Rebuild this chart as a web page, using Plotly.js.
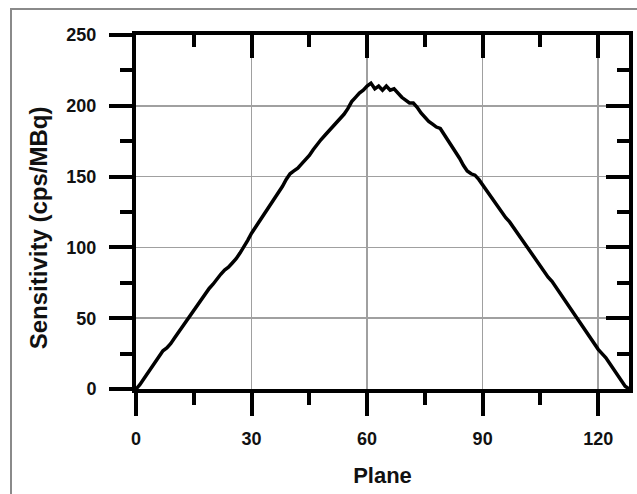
<!DOCTYPE html>
<html>
<head>
<meta charset="utf-8">
<script src="https://cdn.plot.ly/plotly-3.0.1.min.js"></script>
<style>
  html, body { margin: 0; padding: 0; background: #fff; }
  #wrap { position: relative; width: 637px; height: 494px; overflow: hidden; }
  #frame { position: absolute; left: 10px; top: 8px; width: 700px; height: 600px;
           border-left: 2px solid #8a8a8a; border-top: 2px solid #8a8a8a; pointer-events: none; }
  #chart { position: absolute; left: 0; top: 0; width: 637px; height: 494px; }
</style>
</head>
<body>
<div id="wrap">
  <div id="chart"></div>
  <div id="frame"></div>
</div>
<script>
// Plane index (x) and measured sensitivity (cps/MBq)
const planes = [
  0,1,2,3,4,5,6,7,8,9,10,11,12,13,14,15,16,17,18,19,20,21,22,23,24,25,26,27,28,29,
  30,31,32,33,34,35,36,37,38,39,40,41,42,43,44,45,46,47,48,49,50,51,52,53,54,55,56,57,58,59,
  60,61,62,63,64,65,66,67,68,69,70,71,72,73,74,75,76,77,78,79,80,81,82,83,84,85,86,87,88,89,
  90,91,92,93,94,95,96,97,98,99,100,101,102,103,104,105,106,107,108,109,110,111,112,113,114,
  115,116,117,118,119,120,121,122,123,124,125,126,127,128
];
const sensitivity = [
  0,3,7,11,15,19,23,27,29,32,36,40,44,48,52,56,59,63,67,71,74,78,81,84,86,89,92,96,100,105,
  110,114,118,122,126,130,134,138,143,148,152,154,156,159,162,165,169,173,176,179,182,185,188,191,194,198,203,206,209,211,
  214,216,212,214,211,214,211,212,209,206,204,202,202,199,195,192,189,187,185,184,180,176,171,167,163,158,154,152,151,148,
  144,140,136,132,128,125,121,118,114,110,106,102,98,94,91,87,83,79,76,72,68,64,60,56,52,
  48,44,40,35,31,28,25,22,18,14,10,6,2,0
];
const xTickVals = [0, 30, 60, 90, 120];
const xTickText = ["0", "30", "60", "90", "120"];
const yTickVals = [0, 50, 100, 150, 200, 250];
const yTickText = ["0", "50", "100", "150", "200", "250"];
const xTitle = "Plane";
const yTitle = "Sensitivity (cps/MBq)";

const FONT = "Liberation Sans, Arial, sans-serif";

const traces = [
  {
    x: planes, y: sensitivity, type: "scatter", mode: "lines",
    line: { color: "#000", width: 3.5 }, hoverinfo: "skip", showlegend: false
  },
  {
    x: planes, y: sensitivity, type: "scatter", mode: "lines", xaxis: "x2", yaxis: "y2",
    line: { color: "rgba(0,0,0,0)", width: 0 }, hoverinfo: "skip", showlegend: false
  }
];

const common = { showline: true, linecolor: "#000", linewidth: 4, tickcolor: "#000", tickwidth: 4, zeroline: false };

const layout = {
  width: 637, height: 494,
  margin: { l: 136, r: 8, t: 35, b: 105 },
  paper_bgcolor: "rgba(0,0,0,0)", plot_bgcolor: "#fff",
  showlegend: false,
  xaxis: Object.assign({}, common, {
    range: [0, 128], tickvals: xTickVals, ticktext: xTickText,
    ticks: "outside", ticklen: 23, ticklabelstandoff: 7,
    showgrid: true, gridcolor: "#a0a0a0", gridwidth: 1.5,
    minor: { dtick: 15, tick0: 0, ticks: "outside", ticklen: 12, tickwidth: 4, tickcolor: "#000", showgrid: false },
    tickfont: { family: FONT, size: 18, color: "#111", weight: "bold" },
    title: { text: xTitle, font: { family: FONT, size: 22, color: "#111", weight: "bold" }, standoff: 21 }
  }),
  yaxis: Object.assign({}, common, {
    range: [0, 250], tickvals: yTickVals, ticktext: yTickText,
    ticks: "outside", ticklen: 23, ticklabelstandoff: 9,
    showgrid: true, gridcolor: "#a0a0a0", gridwidth: 1.5,
    minor: { dtick: 25, tick0: 0, ticks: "outside", ticklen: 12, tickwidth: 4, tickcolor: "#000", showgrid: false },
    tickfont: { family: FONT, size: 18, color: "#111", weight: "bold" }
  }),
  xaxis2: Object.assign({}, common, {
    overlaying: "x", side: "top", anchor: "y", range: [0, 128],
    tickvals: xTickVals, showticklabels: false, showgrid: false,
    ticks: "inside", ticklen: 23,
    minor: { dtick: 15, tick0: 0, ticks: "inside", ticklen: 12, tickwidth: 4, tickcolor: "#000", showgrid: false }
  }),
  yaxis2: Object.assign({}, common, {
    overlaying: "y", side: "right", anchor: "x", range: [0, 250],
    tickvals: yTickVals, showticklabels: false, showgrid: false,
    ticks: "inside", ticklen: 23,
    minor: { dtick: 25, tick0: 0, ticks: "inside", ticklen: 12, tickwidth: 4, tickcolor: "#000", showgrid: false }
  }),
  annotations: [{
    text: yTitle, textangle: -90, showarrow: false,
    xref: "paper", yref: "paper", x: -0.196, y: 0.455,
    xanchor: "center", yanchor: "middle",
    font: { family: FONT, size: 24, color: "#111", weight: "bold" }
  }]
};

Plotly.newPlot("chart", traces, layout, { staticPlot: true, displayModeBar: false });
</script>
</body>
</html>
